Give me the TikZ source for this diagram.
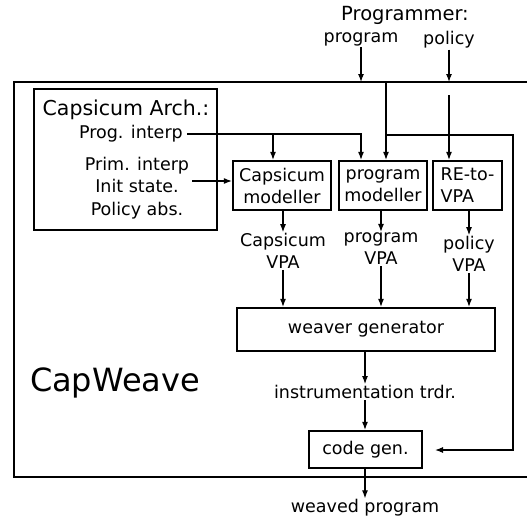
\documentclass[tikz,border=0pt]{standalone}
\usepackage{fontspec}
\setmainfont{DejaVu Sans}
\usepackage{tikz}
\usetikzlibrary{positioning,arrows.meta,calc}
\tikzset{
  flow/.style={-{Latex[length=8pt,width=6pt]}, line width=1.1pt, draw=black},
  every node/.style={anchor=center}
}

\begin{document}
\begin{tikzpicture}[
  x=1pt, y=-1pt,
  font=\fontsize{17.5}{22}\selectfont,
  box/.style={draw, line width=2.3pt, inner sep=2pt, align=center, minimum height=49pt},
  lbl/.style={inner sep=1pt, align=center},
  frame/.style={line width=2pt, draw=black}
]
\useasboundingbox (0,0) rectangle (527,523);
\node[lbl, font=\fontsize{19.5}{22}\selectfont] (who) at (405,15) {Programmer:};
\node[lbl] (inprog) at (361,39) {program};
\node[lbl] (inpol) at (449,40) {policy};
\coordinate (tl) at (14,82);
\draw[frame] (527,82) -- (tl) -- (14,477) -- (527,477);
\node[box, minimum width=183pt, minimum height=141pt] (arch) at (125.5,159.5) {};
\node[lbl, font=\fontsize{20.5}{22}\selectfont] (archt) at (126,110) {Capsicum Arch.:};
\node[lbl, inner sep=4pt, anchor=east] (pint) at (187,134) {Prog. interp};
\node[lbl, font=\fontsize{17.5}{22.5}\selectfont] (rest) at (137,188) {Prim. interp\\Init state.\\Policy abs.};
\node[box, minimum width=98pt] (cmod) at (282,185.5) {Capsicum\\modeller};
\node[box, minimum width=88pt] (pmod) at (383,185.5) {program\\modeller};
\node[box, minimum width=69pt, align=left] (revpa) at (467.5,185.5) {RE-to-\\VPA};
\node[lbl] (cvpa) at (283,251) {Capsicum\\VPA};
\node[lbl] (pvpa) at (381,249) {program\\VPA};
\node[lbl] (polvpa) at (469,254) {policy\\VPA};
\node[box, minimum width=258pt, minimum height=43pt] (weave) at (366,329.5) {weaver generator};
\node[lbl] (instr) at (365,392) {instrumentation trdr.};
\node[box, minimum width=113pt, minimum height=37pt] (code) at (365.5,449.5) {code gen.};
\node[lbl] (out) at (365,508) {weaved program};
\node[font=\fontsize{32}{36}\selectfont] (name) at (115,383) {CapWeave};
\coordinate (pin) at (386,82);
\coordinate (polin) at (449,95);
\coordinate (tap) at (386,135);
\coordinate (rside) at (513,135);
\coordinate (codein) at (435,450);
\coordinate (cj) at (273,135);
\coordinate (pj) at (361,135);
\coordinate (absin) at (192,181);
\draw[flow] (inprog) -- (inprog |- tl);
\draw[flow] (inpol) -- (inpol |- tl);
\draw[flow] (pin) -- (pin |- pmod.north);
\draw[flow] (polin) -- (polin |- revpa.north);
\draw[flow] (tap) -- (rside) |- (codein);
\draw[flow] (pint) -| (pj |- pmod.north);
\draw[flow] (cj) -- (cj |- cmod.north);
\draw[flow] (absin) -- (absin -| cmod.west);
\draw[flow] (cvpa.north |- cmod.south) -- (cvpa.north);
\draw[flow] (pvpa.north |- pmod.south) -- (pvpa.north);
\draw[flow] (polvpa.north |- revpa.south) -- (polvpa.north);
\draw[flow] (cvpa.south) -- (cvpa.south |- weave.north);
\draw[flow] (pvpa.south) -- (pvpa.south |- weave.north);
\draw[flow] (polvpa.south) -- (polvpa.south |- weave.north);
\draw[flow] (weave.south -| instr.north) -- (instr.north);
\draw[flow] (instr.south) -- (instr.south |- code.north);
\draw[flow] (code.south -| out.north) -- (out.north);
\end{tikzpicture}
\end{document}
